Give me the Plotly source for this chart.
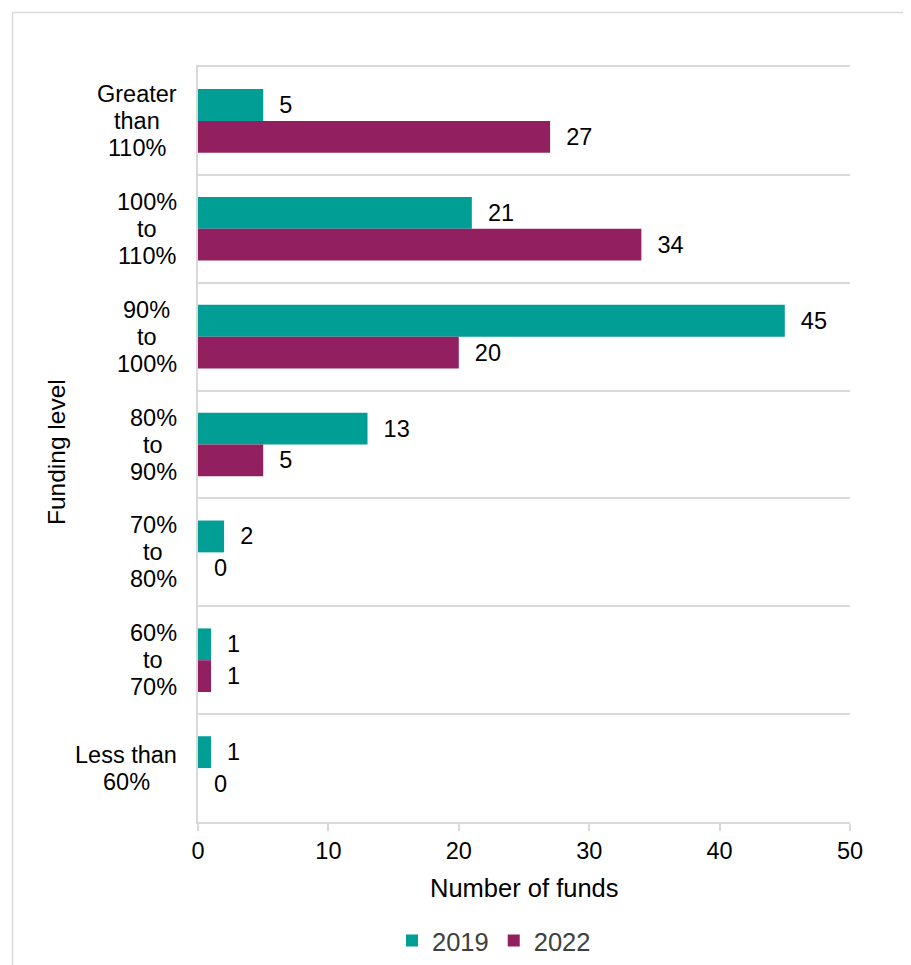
import plotly.graph_objects as go

categories = ["Greater than 110%", "100% to 110%", "90% to 100%", "80% to 90%",
              "70% to 80%", "60% to 70%", "Less than 60%"]
cat_lines = [["Greater", "than", "110%"], ["100%", "to", "110%"], ["90%", "to", "100%"],
             ["80%", "to", "90%"], ["70%", "to", "80%"], ["60%", "to", "70%"],
             ["Less than", "60%"]]
values_2019 = [5, 21, 45, 13, 2, 1, 1]
values_2022 = [27, 34, 20, 5, 0, 1, 0]
x_ticks = [0, 10, 20, 30, 40, 50]

TEAL = "#009E94"
PURPLE = "#922060"
GRID = "#d9d9d9"
FONT = "Arial, Liberation Sans, sans-serif"
FS = 23.5

# page offset of the plotly div (body margin)
OFF = 8
W, H = 911 - OFF, 965 - OFF
PX0, PX1, PY0, PY1 = 198, 850, 67, 822  # plot area in page pixels
L, R, T, B = PX0 - OFF, W - (PX1 - OFF), PY0 - OFF, H - (PY1 - OFF)


def px_x(p):
    return (p - PX0) / (PX1 - PX0)


def px_y(p):
    return (PY1 - p) / (PY1 - PY0)


# approximate Arial advance widths (em) for centring label lines
AW = {"G": .778, "r": .333, "e": .556, "a": .556, "t": .278, "h": .556, "n": .556,
      "%": .889, "o": .556, "L": .556, "s": .5, " ": .278}


def text_w(s):
    return sum(AW.get(ch, .556) for ch in s) * FS


fig = go.Figure()
fig.add_trace(go.Bar(y=categories, x=values_2019, name="2019", orientation="h",
                     marker=dict(color=TEAL, line=dict(width=0)),
                     text=values_2019, texttemplate="  %{x}", textposition="outside",
                     textfont=dict(size=FS, color="#000000"), cliponaxis=False))
fig.add_trace(go.Bar(y=categories, x=values_2022, name="2022", orientation="h",
                     marker=dict(color=PURPLE, line=dict(width=0)),
                     text=values_2022, texttemplate="  %{x}", textposition="outside",
                     textfont=dict(size=FS, color="#000000"), cliponaxis=False))

LINE_H = 27
RIGHT_EDGE = 177
for c, lines in zip(categories, cat_lines):
    maxw = max(text_w(s) for s in lines)
    cx = RIGHT_EDGE - maxw / 2
    n = len(lines)
    for i, s in enumerate(lines):
        fig.add_annotation(x=px_x(cx), xref="paper", y=c, yref="y", text=s,
                           showarrow=False, xanchor="center", yanchor="middle",
                           yshift=((n - 1) / 2 - i) * LINE_H,
                           font=dict(size=FS, color="#000000", family=FONT))

fig.add_annotation(x=px_x(57), xref="paper", y=px_y(452), yref="paper", text="Funding level",
                   textangle=-90, showarrow=False, xanchor="center", yanchor="middle",
                   font=dict(size=24.5, color="#000000", family=FONT))

fig.add_annotation(x=px_x(524), xref="paper", y=px_y(888), yref="paper", text="Number of funds",
                   showarrow=False, xanchor="center", yanchor="middle",
                   font=dict(size=25.5, color="#000000", family=FONT))

# outer chart border
fig.add_shape(type="rect", xref="paper", yref="paper",
              x0=px_x(12.5), x1=px_x(1100), y0=px_y(12.5), y1=px_y(1100),
              line=dict(color=GRID, width=1.5), fillcolor="rgba(0,0,0,0)", layer="below")

fig.update_layout(
    width=W, height=H,
    margin=dict(l=L, r=R, t=T, b=B, autoexpand=False),
    paper_bgcolor="white", plot_bgcolor="white",
    font=dict(family=FONT, size=FS, color="#000000"),
    barmode="group", bargap=0.41, bargroupgap=0,
    showlegend=True,
    legend=dict(orientation="h", x=px_x(494), xanchor="center", y=px_y(941), yanchor="middle",
                font=dict(size=25.5, color="#404040"), itemwidth=30,
                traceorder="normal"),
    xaxis=dict(range=[0, 50], tickvals=x_ticks, showgrid=False, zeroline=False,
               showline=True, mirror=True, linecolor=GRID, linewidth=2,
               ticks="outside", ticklen=7, tickcolor=GRID, tickwidth=2,
               tickfont=dict(size=FS, color="#000000")),
    yaxis=dict(type="category", categoryorder="array", categoryarray=categories,
               autorange="reversed", tickson="boundaries", showgrid=True,
               gridcolor=GRID, gridwidth=2, showticklabels=False, ticks="",
               showline=True, linecolor=GRID, linewidth=2, zeroline=False),
)

fig.write_html("out.html")
